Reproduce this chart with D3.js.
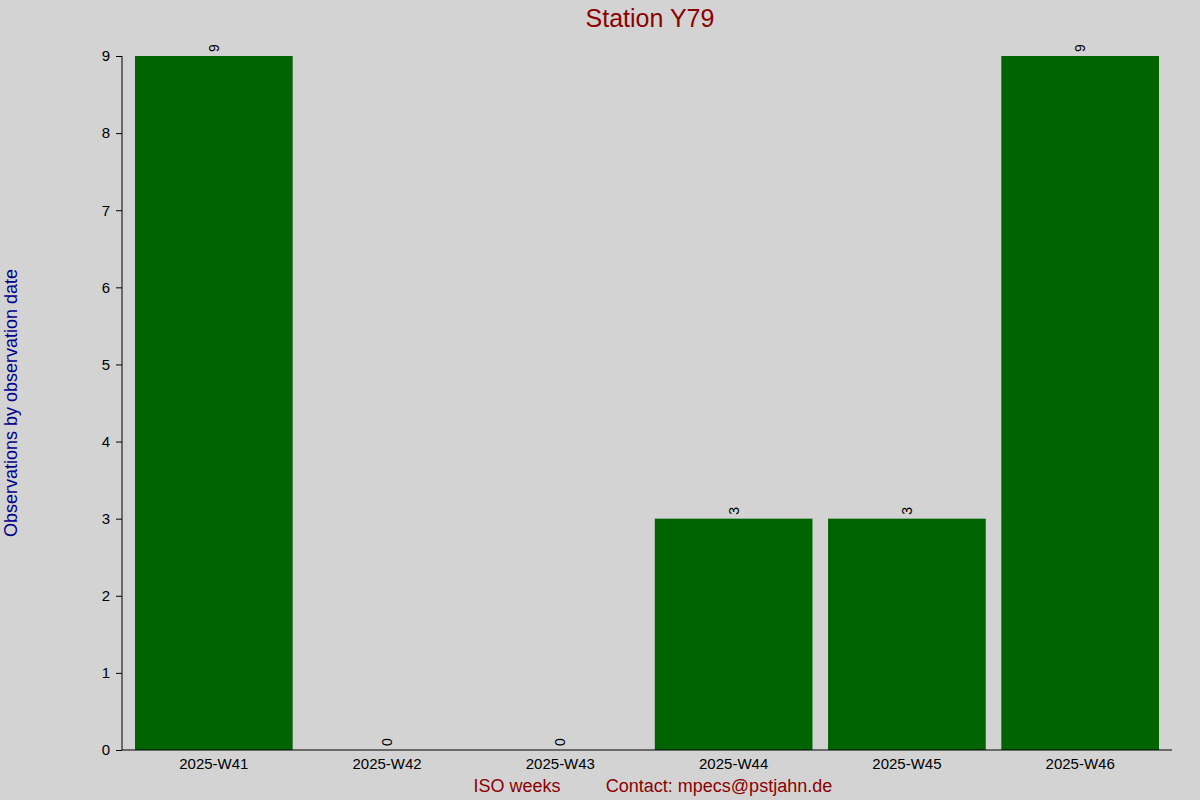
<!DOCTYPE html>
<html><head><meta charset="utf-8">
<script src="https://cdn.jsdelivr.net/npm/d3@7"></script>
<style>body{margin:0;background:#d3d3d3}svg{font-family:"Liberation Sans",Arial,sans-serif}</style>
</head><body>
<script>
const weeks = ["2025-W41","2025-W42","2025-W43","2025-W44","2025-W45","2025-W46"]
const counts = [9, 0, 0, 3, 3, 9]
const yTicks = [0,1,2,3,4,5,6,7,8,9]

const width = 1200, height = 800
const margin = {top: 56, right: 28, bottom: 50, left: 122}

const svg = d3.select("body").append("svg")
    .attr("width", width).attr("height", height)
    .style("background", "#d3d3d3")

const x = d3.scaleBand().domain(weeks)
    .range([margin.left, width - margin.right])
    .paddingInner(0.09).paddingOuter(0.075)
const y = d3.scaleLinear().domain([0, 9])
    .range([height - margin.bottom, margin.top])

svg.append("g").selectAll("rect").data(counts).join("rect")
    .attr("x", (d, i) => x(weeks[i]))
    .attr("y", d => y(d))
    .attr("width", x.bandwidth())
    .attr("height", d => y(0) - y(d))
    .attr("fill", "#006400")

svg.append("g").selectAll("text").data(counts).join("text")
    .attr("transform", (d, i) => `translate(${x(weeks[i]) + x.bandwidth() / 2 + 5},${y(d) - 4}) rotate(-90)`)
    .attr("font-size", 14)
    .text(d => d)

svg.append("g")
    .attr("transform", `translate(${margin.left},0)`)
    .call(d3.axisLeft(y).tickValues(yTicks).tickSize(6).tickPadding(6))
    .call(g => g.selectAll("text").attr("font-size", 15).attr("fill", "#000"))
    .call(g => g.select(".domain").attr("d", `M0,${y(9)}V${y(0)}`))

svg.append("g")
    .attr("transform", `translate(0,${y(0)})`)
    .call(d3.axisBottom(x).tickSize(0).tickPadding(8))
    .call(g => g.selectAll("text").attr("font-size", 15).attr("fill", "#000"))
    .call(g => g.select(".domain").attr("d", `M${margin.left},0H${width - margin.right}`))

svg.append("text").attr("x", 650).attr("y", 27).attr("text-anchor", "middle")
    .attr("font-size", 25).attr("fill", "#8b0000").text("Station Y79")
svg.append("text").attr("transform", "translate(17,403) rotate(-90)").attr("text-anchor", "middle")
    .attr("font-size", 18).attr("fill", "#00008b").text("Observations by observation date")
svg.append("text").attr("x", 517).attr("y", 792).attr("text-anchor", "middle")
    .attr("font-size", 18).attr("fill", "#8b0000").text("ISO weeks")
svg.append("text").attr("x", 719).attr("y", 792).attr("text-anchor", "middle")
    .attr("font-size", 18).attr("fill", "#8b0000").text("Contact: mpecsÿpstjahn.de".replace("ÿ", "@"))
</script>
</body></html>
